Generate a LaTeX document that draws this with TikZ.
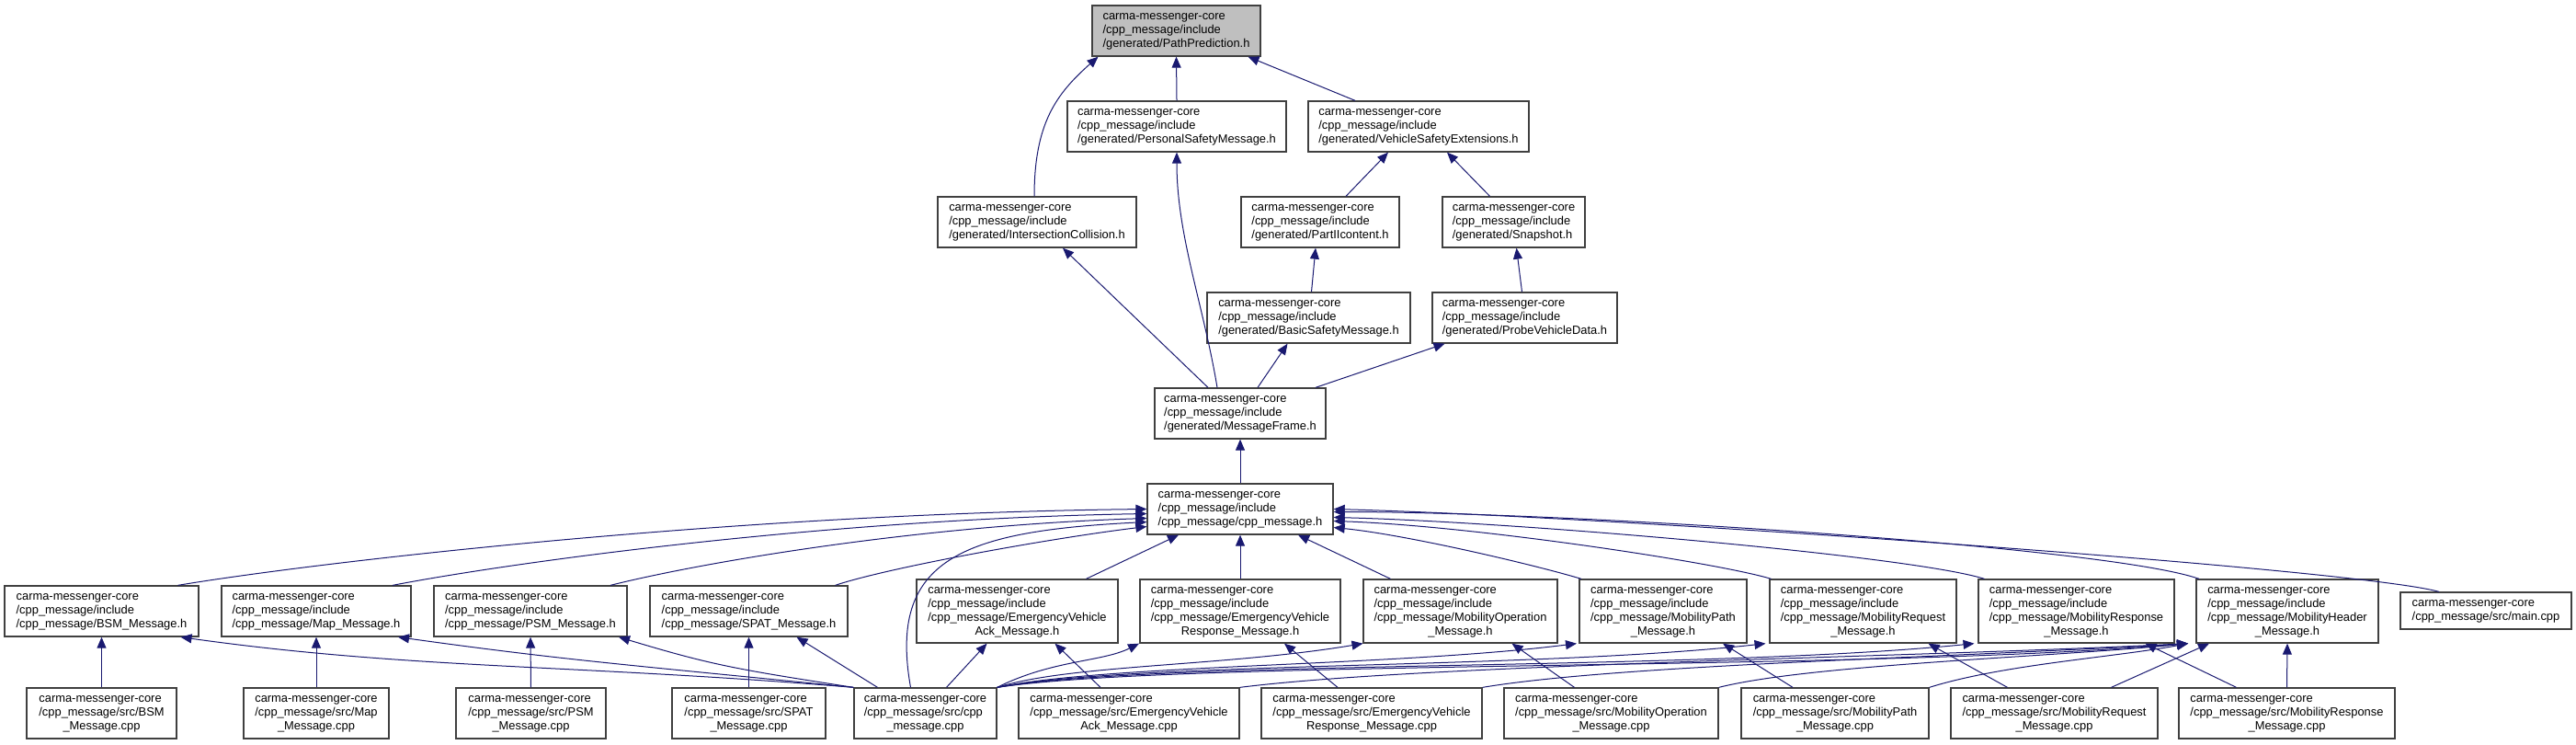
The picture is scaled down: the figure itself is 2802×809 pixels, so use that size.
\documentclass[tikz,border=0pt]{standalone}
\usepackage{fontspec}
\setmainfont{Liberation Sans}
\usetikzlibrary{arrows.meta}

\definecolor{azulnoche}{HTML}{191970}
\definecolor{bordecaja}{HTML}{404040}
\definecolor{grisnodo}{HTML}{BFBFBF}

\newcommand{\lineas}[1]{\begin{tabular}{@{}l@{}}#1\end{tabular}}
\newcommand{\ult}[1]{\multicolumn{1}{@{}c@{}}{#1}}

\tikzset{
	caja/.style={draw=bordecaja, line width=1.3pt, fill=white, inner sep=0pt,
		minimum height=55pt, font=\fontsize{12.9}{15}\selectfont},
	cajacuatro/.style={caja, minimum height=69pt},
	dep/.style={draw=azulnoche, line width=1pt,
		-{Triangle[length=12pt,width=10pt]}}
}

\begin{document}
\begin{tikzpicture}[x=1pt, y=-1pt]
	\useasboundingbox (0,0) rectangle (2802,809);

	% Cabeceras generadas
	\node[caja, fill=grisnodo, minimum width=183pt] (pp) at (1279.5,33.5)
		{\lineas{carma-messenger-core\\/cpp\_message/include\\/generated/PathPrediction.h}};
	\node[caja, minimum width=238pt] (gpsm) at (1280,137.5)
		{\lineas{carma-messenger-core\\/cpp\_message/include\\/generated/PersonalSafetyMessage.h}};
	\node[caja, minimum width=240pt] (vse) at (1543,137.5)
		{\lineas{carma-messenger-core\\/cpp\_message/include\\/generated/VehicleSafetyExtensions.h}};
	\node[caja, minimum width=216pt] (ic) at (1128,241.5)
		{\lineas{carma-messenger-core\\/cpp\_message/include\\/generated/IntersectionCollision.h}};
	\node[caja, minimum width=172pt] (p2) at (1436,241.5)
		{\lineas{carma-messenger-core\\/cpp\_message/include\\/generated/PartIIcontent.h}};
	\node[caja, minimum width=155pt] (snap) at (1646.5,241.5)
		{\lineas{carma-messenger-core\\/cpp\_message/include\\/generated/Snapshot.h}};
	\node[caja, minimum width=221pt] (bsmsg) at (1423.5,345.5)
		{\lineas{carma-messenger-core\\/cpp\_message/include\\/generated/BasicSafetyMessage.h}};
	\node[caja, minimum width=201pt] (pvd) at (1658.5,345.5)
		{\lineas{carma-messenger-core\\/cpp\_message/include\\/generated/ProbeVehicleData.h}};
	\node[caja, minimum width=186pt] (mf) at (1349,449.5)
		{\lineas{carma-messenger-core\\/cpp\_message/include\\/generated/MessageFrame.h}};
	\node[caja, minimum width=202pt] (cpph) at (1349,553.5)
		{\lineas{carma-messenger-core\\/cpp\_message/include\\/cpp\_message/cpp\_message.h}};

	% Cabeceras de mensajes
	\node[caja, minimum width=211pt] (bsmh) at (110.5,664.5)
		{\lineas{carma-messenger-core\\/cpp\_message/include\\/cpp\_message/BSM\_Message.h}};
	\node[caja, minimum width=206pt] (maph) at (344,664.5)
		{\lineas{carma-messenger-core\\/cpp\_message/include\\/cpp\_message/Map\_Message.h}};
	\node[caja, minimum width=210pt] (psmh) at (577,664.5)
		{\lineas{carma-messenger-core\\/cpp\_message/include\\/cpp\_message/PSM\_Message.h}};
	\node[caja, minimum width=215pt] (spath) at (814.5,664.5)
		{\lineas{carma-messenger-core\\/cpp\_message/include\\/cpp\_message/SPAT\_Message.h}};
	\node[cajacuatro, minimum width=219pt] (evah) at (1106.5,664.5)
		{\lineas{carma-messenger-core\\/cpp\_message/include\\/cpp\_message/EmergencyVehicle\\\ult{Ack\_Message.h}}};
	\node[cajacuatro, minimum width=218pt] (evrh) at (1349,664.5)
		{\lineas{carma-messenger-core\\/cpp\_message/include\\/cpp\_message/EmergencyVehicle\\\ult{Response\_Message.h}}};
	\node[cajacuatro, minimum width=211pt] (moph) at (1588.5,664.5)
		{\lineas{carma-messenger-core\\/cpp\_message/include\\/cpp\_message/MobilityOperation\\\ult{\_Message.h}}};
	\node[cajacuatro, minimum width=182pt] (mpah) at (1809,664.5)
		{\lineas{carma-messenger-core\\/cpp\_message/include\\/cpp\_message/MobilityPath\\\ult{\_Message.h}}};
	\node[cajacuatro, minimum width=203pt] (mrqh) at (2026.5,664.5)
		{\lineas{carma-messenger-core\\/cpp\_message/include\\/cpp\_message/MobilityRequest\\\ult{\_Message.h}}};
	\node[cajacuatro, minimum width=213pt] (mrsh) at (2258.5,664.5)
		{\lineas{carma-messenger-core\\/cpp\_message/include\\/cpp\_message/MobilityResponse\\\ult{\_Message.h}}};
	\node[cajacuatro, minimum width=198pt] (mhdh) at (2488,664.5)
		{\lineas{carma-messenger-core\\/cpp\_message/include\\/cpp\_message/MobilityHeader\\\ult{\_Message.h}}};
	\node[caja, minimum width=186pt, minimum height=40pt] (main) at (2704,664)
		{\lineas{carma-messenger-core\\/cpp\_message/src/main.cpp}};

	% Fuentes
	\node[caja, minimum width=163pt] (bsmc) at (110.5,775.5)
		{\lineas{carma-messenger-core\\/cpp\_message/src/BSM\\\ult{\_Message.cpp}}};
	\node[caja, minimum width=158pt] (mapc) at (344,775.5)
		{\lineas{carma-messenger-core\\/cpp\_message/src/Map\\\ult{\_Message.cpp}}};
	\node[caja, minimum width=163pt] (psmc) at (577.5,775.5)
		{\lineas{carma-messenger-core\\/cpp\_message/src/PSM\\\ult{\_Message.cpp}}};
	\node[caja, minimum width=167pt] (spatc) at (814.5,775.5)
		{\lineas{carma-messenger-core\\/cpp\_message/src/SPAT\\\ult{\_Message.cpp}}};
	\node[caja, minimum width=155pt] (cppc) at (1006.5,775.5)
		{\lineas{carma-messenger-core\\/cpp\_message/src/cpp\\\ult{\_message.cpp}}};
	\node[caja, minimum width=240pt] (evac) at (1228,775.5)
		{\lineas{carma-messenger-core\\/cpp\_message/src/EmergencyVehicle\\\ult{Ack\_Message.cpp}}};
	\node[caja, minimum width=240pt] (evrc) at (1492,775.5)
		{\lineas{carma-messenger-core\\/cpp\_message/src/EmergencyVehicle\\\ult{Response\_Message.cpp}}};
	\node[caja, minimum width=233pt] (mopc) at (1752.5,775.5)
		{\lineas{carma-messenger-core\\/cpp\_message/src/MobilityOperation\\\ult{\_Message.cpp}}};
	\node[caja, minimum width=204pt] (mpac) at (1996,775.5)
		{\lineas{carma-messenger-core\\/cpp\_message/src/MobilityPath\\\ult{\_Message.cpp}}};
	\node[caja, minimum width=225pt] (mrqc) at (2234.5,775.5)
		{\lineas{carma-messenger-core\\/cpp\_message/src/MobilityRequest\\\ult{\_Message.cpp}}};
	\node[caja, minimum width=235pt] (mrsc) at (2487.5,775.5)
		{\lineas{carma-messenger-core\\/cpp\_message/src/MobilityResponse\\\ult{\_Message.cpp}}};

	% Dependencias de las cabeceras generadas
	\draw[dep] ([xshift=-3pt]ic.north) .. controls +(0,-80) and +(-45,40) .. ([xshift=-85pt]pp.south);
	\draw[dep] (gpsm.north) -- (pp.south);
	\draw[dep] ([xshift=-69pt]vse.north) -- ([xshift=78pt]pp.south);
	\draw[dep] ([xshift=28pt]p2.north) -- ([xshift=-33pt]vse.south);
	\draw[dep] ([xshift=-26pt]snap.north) -- ([xshift=31pt]vse.south);
	\draw[dep] ([xshift=3pt]bsmsg.north) -- ([xshift=-5pt]p2.south);
	\draw[dep] ([xshift=-3pt]pvd.north) -- ([xshift=3pt]snap.south);
	\draw[dep] ([xshift=-35pt]mf.north) -- ([xshift=28pt]ic.south);
	\draw[dep] ([xshift=-25pt]mf.north) .. controls +(-15,-90) and +(0,90) .. (gpsm.south);
	\draw[dep] ([xshift=19pt]mf.north) -- ([xshift=-23pt]bsmsg.south);
	\draw[dep] ([xshift=82pt]mf.north) -- ([xshift=-87pt]pvd.south);
	\draw[dep] (cpph.north) -- (mf.south);

	% Hacia cpp_message.h
	\draw[dep] ([xshift=83pt]bsmh.north) .. controls +(150,-25) and +(-450,5) .. (cpph.west);
	\draw[dep] ([xshift=83pt]maph.north) .. controls +(130,-25) and +(-350,6) .. ([yshift=-5pt]cpph.west);
	\draw[dep] ([xshift=87pt]psmh.north) .. controls +(100,-25) and +(-250,8) .. ([yshift=-10pt]cpph.west);
	\draw[dep] ([xshift=-16pt]cppc.north) .. controls +(-25,-140) and +(-200,10) .. ([yshift=-14pt]cpph.west);
	\draw[dep] ([xshift=94pt]spath.north) .. controls +(60,-20) and +(-100,12) .. ([yshift=-19pt]cpph.west);
	\draw[dep] ([xshift=75pt]evah.north) -- ([xshift=-67pt]cpph.south);
	\draw[dep] (evrh.north) -- (cpph.south);
	\draw[dep] ([xshift=-76pt]moph.north) -- ([xshift=63pt]cpph.south);
	\draw[dep] ([xshift=-89pt]mpah.north) .. controls +(-50,-15) and +(80,8) .. ([yshift=-20pt]cpph.east);
	\draw[dep] ([xshift=-100pt]mrqh.north) .. controls +(-60,-18) and +(150,5) .. ([yshift=-13pt]cpph.east);
	\draw[dep] ([xshift=-100pt]mrsh.north) .. controls +(-80,-25) and +(200,5) .. ([yshift=-9pt]cpph.east);
	\draw[dep] ([xshift=-96pt]mhdh.north) .. controls +(-100,-35) and +(250,0) .. ([yshift=-3pt]cpph.east);
	\draw[dep] ([xshift=-51pt]main.north) .. controls +(-90,-25) and +(300,8) .. (cpph.east);

	% Fuentes hacia sus cabeceras
	\draw[dep] (bsmc.north) -- (bsmh.south);
	\draw[dep] (mapc.north) -- (maph.south);
	\draw[dep] (psmc.north) -- (psmh.south);
	\draw[dep] (spatc.north) -- (spath.south);
	\draw[dep] ([xshift=-31pt]evac.north) -- ([xshift=41pt]evah.south);
	\draw[dep] ([xshift=-37pt]evrc.north) -- ([xshift=48pt]evrh.south);
	\draw[dep] ([xshift=-40pt]mopc.north) -- ([xshift=56pt]moph.south);
	\draw[dep] ([xshift=-46pt]mpac.north) -- ([xshift=65pt]mpah.south);
	\draw[dep] ([xshift=-51pt]mrqc.north) -- ([xshift=71pt]mrqh.south);
	\draw[dep] ([xshift=-55pt]mrsc.north) -- ([xshift=75pt]mrsh.south);
	\draw[dep] (mrsc.north) -- (mhdh.south);
	\draw[dep] ([xshift=62pt]mrqc.north) -- ([xshift=-85pt]mhdh.south);
	\draw[dep] (mpac.north east) .. controls +(80,-25) and +(-80,15) .. ([xshift=-108pt]mhdh.south);
	\draw[dep] (mopc.north east) .. controls +(100,-25) and +(-150,15) .. ([xshift=-108pt]mhdh.south);
	\draw[dep] (evrc.north east) .. controls +(150,-25) and +(-250,15) .. ([xshift=-108pt]mhdh.south);
	\draw[dep] (evac.north east) .. controls +(200,-25) and +(-300,15) .. ([xshift=-108pt]mhdh.south);

	% cpp_message.cpp
	\draw[dep] (cppc.north west) .. controls +(-300,-25) and +(250,35) .. ([xshift=86pt]bsmh.south);
	\draw[dep] (cppc.north west) .. controls +(-250,-25) and +(180,25) .. ([xshift=89pt]maph.south);
	\draw[dep] (cppc.north west) .. controls +(-130,-20) and +(100,30) .. ([xshift=96pt]psmh.south);
	\draw[dep] ([xshift=-52pt]cppc.north) -- ([xshift=52pt]spath.south);
	\draw[dep] ([xshift=23pt]cppc.north) -- ([xshift=-33pt]evah.south);
	\draw[dep] (cppc.north east) .. controls +(60,-30) and +(-40,20) .. ([xshift=-110pt]evrh.south);
	\draw[dep] (cppc.north east) .. controls +(80,-25) and +(-150,25) .. ([xshift=-106pt]moph.south);
	\draw[dep] (cppc.north east) .. controls +(120,-25) and +(-200,25) .. ([xshift=-94pt]mpah.south);
	\draw[dep] (cppc.north east) .. controls +(150,-28) and +(-250,28) .. ([xshift=-106pt]mrqh.south);
	\draw[dep] (cppc.north east) .. controls +(180,-30) and +(-300,30) .. ([xshift=-111pt]mrsh.south);
	\draw[dep] (cppc.north east) .. controls +(200,-30) and +(-350,30) .. ([xshift=-108pt]mhdh.south);
\end{tikzpicture}
\end{document}
